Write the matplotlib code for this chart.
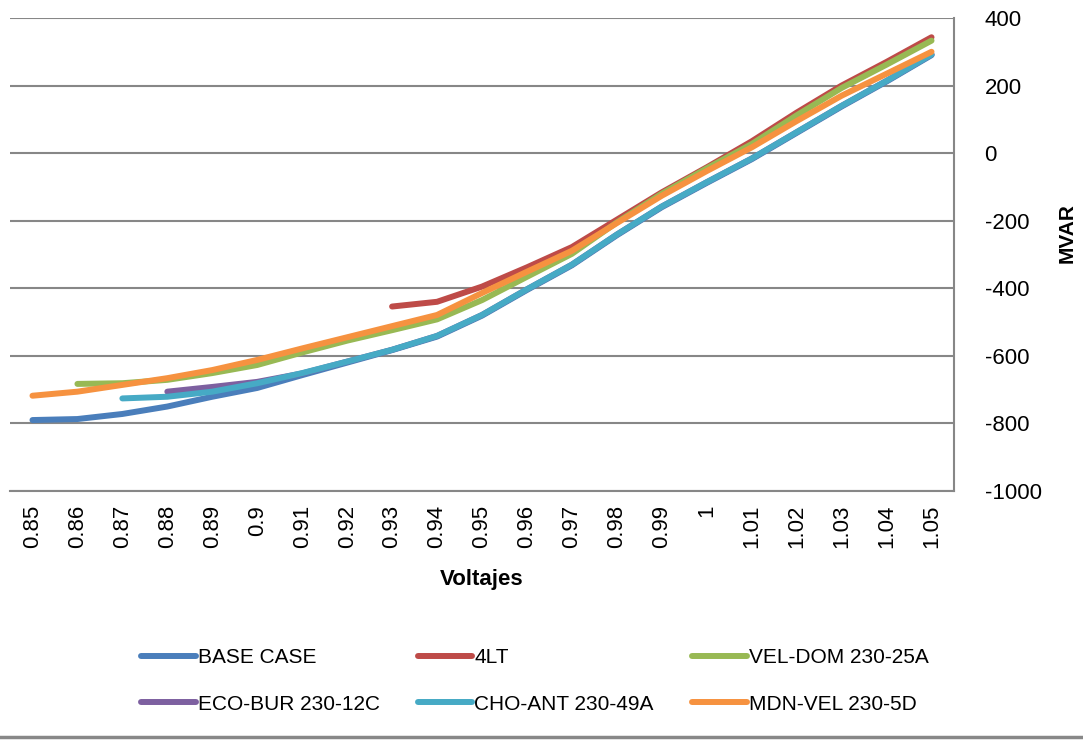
import matplotlib
matplotlib.use('Agg')
import matplotlib.pyplot as plt
from matplotlib.lines import Line2D
import numpy as np

plt.rcParams['font.family'] = ['Liberation Sans', 'DejaVu Sans']
plt.rcParams['axes.unicode_minus'] = False

# voltage categories (x axis)
voltajes = ['0.85', '0.86', '0.87', '0.88', '0.89', '0.9', '0.91', '0.92', '0.93', '0.94',
            '0.95', '0.96', '0.97', '0.98', '0.99', '1', '1.01', '1.02', '1.03', '1.04', '1.05']

# MVAR per case, None where the case has no value
base_case = [-790, -787, -772, -750, -721, -695, -657, -620, -583, -543, -481,
             -405, -332, -243, -160, -88, -18, 60, 138, 212, 290]
lt4 = [None, None, None, None, None, None, None, None, -454, -440, -395,
       -338, -278, -197, -116, -42, 35, 120, 200, 270, 343]
vel_dom = [None, -683, -681, -671, -651, -627, -590, -555, -524, -492, -435,
           -366, -298, -205, -120, -45, 27, 112, 193, 262, 333]
eco_bur = [None, None, None, -706, -692, -677, -652, -617, -582, -541, -479,
           -403, -330, -241, -158, -86, -16, 62, 140, 214, 292]
cho_ant = [None, None, -726, -721, -706, -681, -651, -617, -582, -541, -479,
           -403, -330, -241, -158, -86, -16, 62, 140, 214, 292]
mdn_vel = [-718, -706, -686, -666, -642, -612, -578, -545, -512, -479, -414,
           -351, -289, -207, -126, -53, 17, 95, 170, 235, 300]

series = [
    ('BASE CASE', base_case, '#4A7EBB'),
    ('4LT', lt4, '#BE4B48'),
    ('VEL-DOM 230-25A', vel_dom, '#98B954'),
    ('ECO-BUR 230-12C', eco_bur, '#7D60A0'),
    ('CHO-ANT 230-49A', cho_ant, '#46AAC5'),
    ('MDN-VEL 230-5D', mdn_vel, '#F69240'),
]

fig = plt.figure(figsize=(10.83, 7.4), dpi=100)
ax = fig.add_axes([10/1083, 1 - 491/740, 944/1083, 473/740])

x = np.arange(len(voltajes))
lines = []
for name, vals, col in series:
    y = np.array([np.nan if v is None else v for v in vals], dtype=float)
    ln, = ax.plot(x, y, color=col, lw=4.3, label=name, solid_capstyle='round',
                  solid_joinstyle='round', zorder=3)
    lines.append(ln)

ax.set_xlim(-0.5, len(voltajes) - 0.5)
ax.set_ylim(-1000, 400)
ax.set_yticks(np.arange(-1000, 401, 200))
ax.set_xticks(x)
ax.set_xticklabels(voltajes, rotation=90)

# value axis on the right, like the excel chart
ax.yaxis.tick_right()
ax.yaxis.set_label_position('right')
ax.tick_params(axis='y', length=0, pad=22, labelsize=16)
ax.tick_params(axis='x', length=0, pad=10, labelsize=16)

ax.grid(axis='y', color='#878787', lw=1.5)
ax.set_axisbelow(True)
for s in ['left', 'top']:
    ax.spines[s].set_visible(False)
ax.spines['right'].set_color('#878787')
ax.spines['right'].set_linewidth(1.5)
ax.spines['bottom'].set_color('#878787')
ax.spines['bottom'].set_linewidth(1.5)

ax.set_xlabel('Voltajes', fontsize=16, fontweight='bold')
ax.xaxis.set_label_coords(0.5, -0.165)
ax.set_ylabel('MVAR', fontsize=15, fontweight='bold')
ax.yaxis.set_label_coords(1.11, 0.545)

# legend filled row by row (excel order)
order = [0, 3, 1, 4, 2, 5]
fig.legend([lines[i] for i in order], [series[i][0] for i in order],
           loc='upper left', bbox_to_anchor=(131/1083, 1 - 638/740), ncol=3,
           frameon=False, fontsize=15, handlelength=2.6, handletextpad=0.1,
           columnspacing=1.85, labelspacing=1.3, borderpad=0)

# chart border line at the bottom
fig.add_artist(Line2D([0, 1], [0.004, 0.004], color='#888888', lw=2.5))

fig.savefig('out.png', dpi=100)
